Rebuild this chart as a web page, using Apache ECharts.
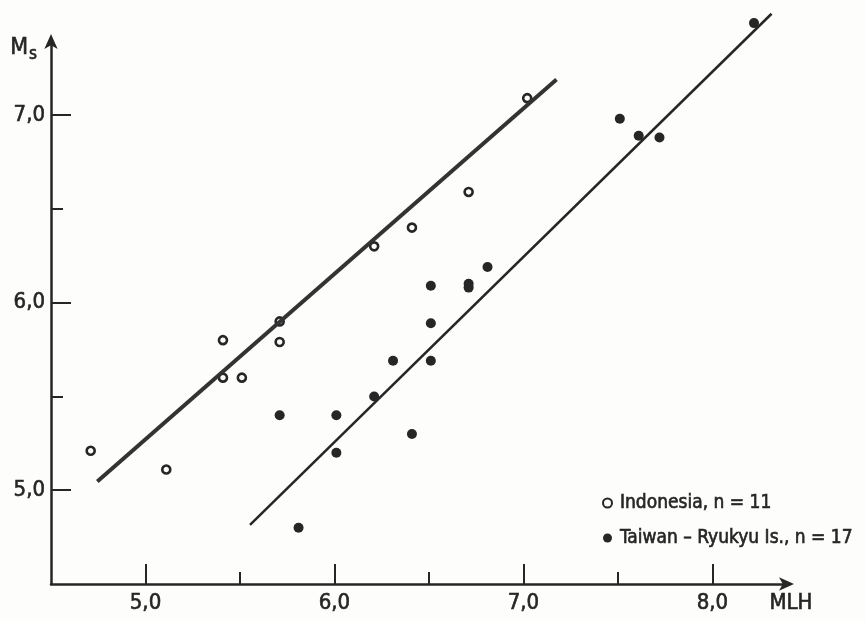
<!DOCTYPE html>
<html>
<head>
<meta charset="utf-8">
<script src="https://cdn.jsdelivr.net/npm/echarts@6/dist/echarts.min.js"></script>
<style>
  html, body { margin: 0; padding: 0; background: #fdfdfc; }
  #chart { width: 866px; height: 621px; }
</style>
</head>
<body>
<div id="chart"></div>
<script>
// MLH vs Ms — Indonesia (open) and Taiwan–Ryukyu Is. (filled)
const INDONESIA = [
  [4.71, 5.21], [5.11, 5.11], [5.41, 5.80], [5.41, 5.60], [5.51, 5.60],
  [5.71, 5.90], [5.71, 5.79], [6.21, 6.30], [6.41, 6.40], [6.71, 6.59], [7.02, 7.09],
];
const TAIWAN = [
  [5.71, 5.40], [5.81, 4.80], [6.01, 5.40], [6.01, 5.20], [6.21, 5.50], [6.31, 5.69],
  [6.41, 5.30], [6.51, 6.09], [6.51, 5.89], [6.51, 5.69], [6.71, 6.10], [6.71, 6.08],
  [6.81, 6.19], [7.51, 6.98], [7.61, 6.89], [7.72, 6.88], [8.22, 7.49],
];
// fitted lines (end points)
const LINE_INDONESIA = [[4.745, 5.046], [7.175, 7.19]];
const LINE_TAIWAN = [[5.553, 4.815], [8.313, 7.54]];

const X_MAJOR = [5, 6, 7, 8];
const X_MINOR = [5.5, 6.5, 7.5];
const Y_MAJOR = [5, 6, 7];
const Y_MINOR = [5.5, 6.5];

const NAME_INDO = 'Indonesia, n = 11';
const NAME_TAIW = 'Taiwan – Ryukyu Is., n = 17';

const FONT = "'DejaVu Sans Condensed', 'Liberation Sans Narrow', 'Roboto Condensed', sans-serif";
const INK = '#262626';
const fmt = v => v.toFixed(1).replace('.', ',');
// slight stroke so the text looks as heavy as the print
const heavy = { textBorderColor: INK, textBorderWidth: 0.6 };

const chart = echarts.init(document.getElementById('chart'), null, { renderer: 'canvas' });

const axisLine = (arrow) => ({
  show: true,
  symbol: arrow ? ['none', 'arrow'] : 'none',
  symbolSize: [10, 15],
  symbolOffset: [0, 6],
  lineStyle: { color: INK, width: 2.5 },
});

chart.setOption({
  backgroundColor: '#fdfdfc',
  animation: false,
  grid: { left: 51, right: 78, top: 40, bottom: 37, containLabel: false },
  xAxis: [
    {
      type: 'value', min: 4.5, max: 8.4, position: 'bottom',
      splitLine: { show: false },
      axisLine: axisLine(true),
      axisTick: { show: true, inside: true, length: 20, customValues: X_MAJOR, lineStyle: { color: INK, width: 2 } },
      axisLabel: { customValues: X_MAJOR, formatter: fmt, margin: 8, color: INK, fontSize: 22, fontFamily: FONT, ...heavy },
      name: 'MLH', nameLocation: 'end', nameGap: 0,
      nameTextStyle: { align: 'center', verticalAlign: 'top', padding: [8, 0, 0, 6], color: INK, fontSize: 22, fontFamily: FONT, ...heavy },
    },
    {
      type: 'value', min: 4.5, max: 8.4, position: 'bottom',
      splitLine: { show: false }, axisLine: { show: false }, axisLabel: { show: false },
      axisTick: { show: true, inside: true, length: 12, customValues: X_MINOR, lineStyle: { color: INK, width: 2 } },
    },
  ],
  yAxis: [
    {
      type: 'value', min: 4.5, max: 7.4, position: 'left',
      splitLine: { show: false },
      axisLine: axisLine(true),
      axisTick: { show: true, inside: true, length: 20, customValues: Y_MAJOR, lineStyle: { color: INK, width: 2 } },
      axisLabel: { customValues: Y_MAJOR, formatter: fmt, margin: 6, color: INK, fontSize: 22, fontFamily: FONT, ...heavy },
      name: '{a|M}{b|s}', nameLocation: 'end', nameGap: 6,
      nameTextStyle: {
        align: 'right', verticalAlign: 'top', padding: [0, 14, 0, 0], color: INK, fontFamily: FONT,
        rich: {
          a: { fontSize: 23, color: INK, fontFamily: FONT, ...heavy },
          b: { fontSize: 17, color: INK, fontFamily: FONT, padding: [12, 0, 0, 1], ...heavy },
        },
      },
    },
    {
      type: 'value', min: 4.5, max: 7.4, position: 'left',
      splitLine: { show: false }, axisLine: { show: false }, axisLabel: { show: false },
      axisTick: { show: true, inside: true, length: 12, customValues: Y_MINOR, lineStyle: { color: INK, width: 2 } },
    },
  ],
  legend: {
    data: [NAME_INDO, NAME_TAIW],
    orient: 'vertical', left: 597, top: 486,
    itemWidth: 9, itemHeight: 9, itemGap: 11,
    textStyle: { color: INK, fontSize: 19, fontFamily: FONT, lineHeight: 24, padding: [0, 0, 0, 3], ...heavy },
  },
  series: [
    {
      type: 'line', data: LINE_INDONESIA, symbol: 'none', clip: false, silent: true,
      lineStyle: { color: '#333', width: 4 },
    },
    {
      type: 'line', data: LINE_TAIWAN, symbol: 'none', clip: false, silent: true,
      lineStyle: { color: INK, width: 2.5 },
    },
    {
      name: NAME_INDO, type: 'scatter', data: INDONESIA, clip: false,
      symbol: 'circle', symbolSize: 8,
      itemStyle: { color: '#fdfdfc', borderColor: INK, borderWidth: 2.6, opacity: 1 },
    },
    {
      name: NAME_TAIW, type: 'scatter', data: TAIWAN, clip: false,
      symbol: 'circle', symbolSize: 10,
      itemStyle: { color: INK, opacity: 1 },
    },
  ],
});
</script>
</body>
</html>
